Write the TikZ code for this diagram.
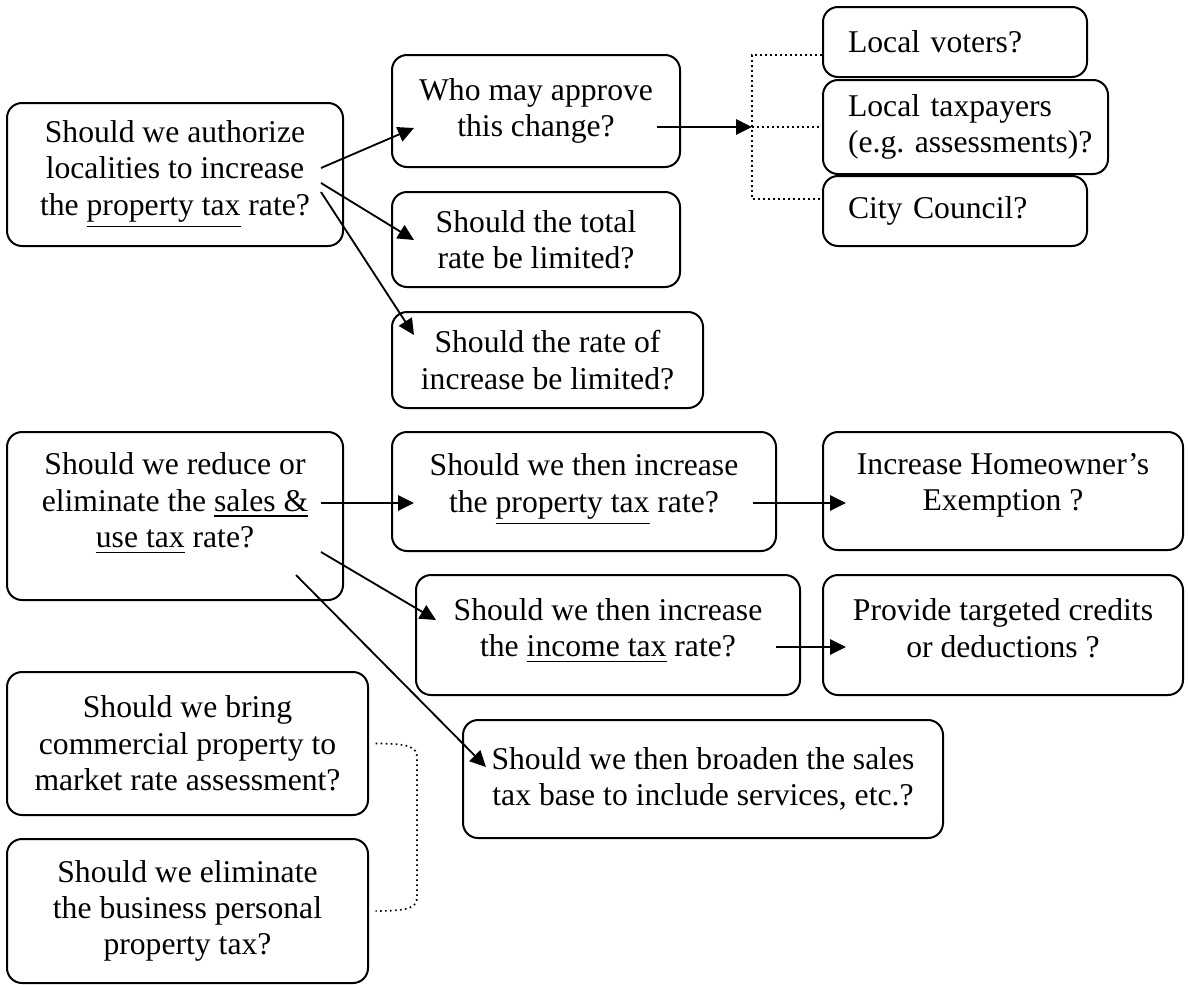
\documentclass[tikz,border=0pt]{standalone}
\usepackage{fontspec}
\setmainfont{Liberation Serif}
\usetikzlibrary{arrows.meta}
\tikzset{
        qbox/.style={draw, line width=0.6pt, rounded corners=4.5pt, align=center, inner sep=0pt},
        lbox/.style={draw, line width=0.6pt, rounded corners=4.5pt, align=left, inner xsep=7.5pt, inner ysep=0pt},
        lift/.style={text depth=#1},
        arr/.style={line width=0.55pt, -{Triangle[length=4.8pt,width=4.6pt]}},
        link/.style={line width=0.5pt, densely dotted},
}

\begin{document}
\begin{tikzpicture}[x=0.3pt,y=-0.3pt,font=\fontsize{9.5}{10.9}\selectfont\frenchspacing]
        \useasboundingbox (0,0) rectangle (1188,984);
        % property tax branch
        \node[qbox, minimum width=100.8pt, minimum height=42.9pt] (auth) at (175,174.5) {Should we authorize\\localities to increase\\the \underline{property tax} rate?};
        \node[qbox, minimum width=86.4pt, minimum height=33.6pt] (who) at (536,111) {Who may approve\\this change?};
        \node[qbox, minimum width=86.4pt, minimum height=28.5pt] (total) at (536,239.5) {Should the total\\rate be limited?};
        \node[qbox, minimum width=93.3pt, minimum height=28.8pt] (incr) at (547.5,360) {Should the rate of\\increase be limited?};
        \node[lbox, text width=64.2pt, minimum height=21pt] (voters) at (955,42) {Local voters?};
        \node[lbox, text width=70.5pt, minimum height=28.2pt] (payers) at (965.5,127) {Local taxpayers\\\mbox{(e.g. assessments)?}};
        \node[lbox, text width=64.2pt, minimum height=21pt] (council) at (955,211) {City Council?};
        % sales tax branch
        \node[qbox, lift=9.5pt, minimum width=100.8pt, minimum height=50.4pt] (sales) at (175,516) {Should we reduce or\\eliminate the \underline{sales \&}\\\underline{use tax} rate?};
        \node[qbox, lift=5pt, minimum width=115.2pt, minimum height=35.7pt] (prop) at (584,491.5) {Should we then increase\\the \underline{property tax} rate?};
        \node[qbox, lift=5.6pt, minimum width=108pt, minimum height=35.4pt] (home) at (1003,491) {Increase Homeowner’s\\Exemption ?};
        \node[qbox, lift=4.5pt, minimum width=115.2pt, minimum height=36pt] (inc) at (608,635) {Should we then increase\\the \underline{income tax} rate?};
        \node[qbox, lift=4.2pt, minimum width=108pt, minimum height=36pt] (cred) at (1003,635) {Provide targeted credits\\or deductions ?};
        \node[qbox, minimum width=144pt, minimum height=35.4pt] (base) at (703,779) {Should we then broaden the sales\\tax base to include services, etc.?};
        % business property
        \node[qbox, minimum width=108.3pt, minimum height=42.9pt] (comm) at (187.5,743.5) {Should we bring\\commercial property to\\market rate assessment?};
        \node[qbox, minimum width=108.3pt, minimum height=43.2pt] (bpp) at (187.5,911) {Should we eliminate\\the business personal\\property tax?};
        \coordinate (brk) at (752,127);
        % arrows
        \draw[arr] ([shift={(-23,-6.5)}]auth.east) -- ([shift={(23,17)}]who.west);
        \draw[arr] ([shift={(-23,8.5)}]auth.east) -- ([shift={(23,0.5)}]total.west);
        \draw[arr] ([shift={(-23,17.5)}]auth.east) -- ([shift={(23,-25)}]incr.west);
        \draw[arr] ([shift={(-24,16)}]who.east) -- (brk);
        \draw[arr] ([shift={(-23,-13)}]sales.east) -- ([shift={(23,11.5)}]prop.west);
        \draw[arr] ([shift={(-23,36)}]sales.east) -- ([shift={(21,-15)}]inc.west);
        \draw[arr] ([shift={(-48,59)}]sales.east) -- ([shift={(24,-12)}]base.west);
        \draw[arr] ([shift={(-24,11.5)}]prop.east) -- ([shift={(24,12)}]home.west);
        \draw[arr] ([shift={(-25,12)}]inc.east) -- ([shift={(24,12)}]cred.west);
        % dotted links
        \draw[link] ([shift={(0,13)}]voters.west) -| (brk) |- ([shift={(0,-12)}]council.west);
        \draw[link] (brk) -- (payers.west);
        \draw[link] ([xshift=2]comm.east) .. controls +(35,0) and +(0,-10) .. ([shift={(48,14)}]comm.east) -- ([shift={(48,-14)}]bpp.east) .. controls +(0,10) and +(35,0) .. ([xshift=2]bpp.east);
\end{tikzpicture}
\end{document}
